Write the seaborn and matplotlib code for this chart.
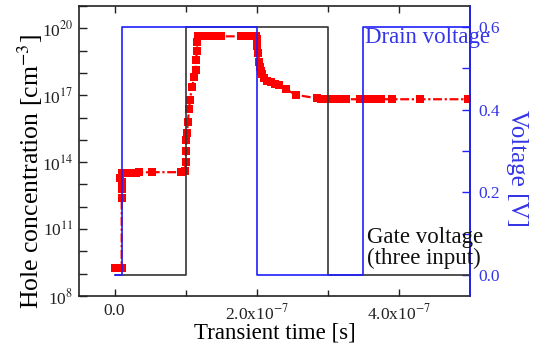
import numpy as np
import pandas as pd
import matplotlib
matplotlib.use("Agg")
import matplotlib.pyplot as plt
import matplotlib.ticker as mticker
import seaborn as sns

# ---------------- data ----------------
# hole concentration (time in units of 1e-7 s, log10 of concentration in cm^-3)
hole_time_e7 = [0.00, 0.06, 0.10, 0.101, 0.102, 0.104, 0.08, 0.11, 0.15, 0.20, 0.25, 0.30, 0.35,
                0.53, 0.94, 0.99, 1.00, 1.005, 1.01, 1.02, 1.03, 1.05, 1.06, 1.09, 1.12, 1.14,
                1.15, 1.155, 1.165, 1.18, 1.23, 1.28, 1.33, 1.38, 1.45, 1.50, 1.78, 1.83, 1.87,
                1.92, 1.96, 1.99, 2.00, 2.01, 2.02, 2.035, 2.05, 2.06, 2.08, 2.105, 2.15, 2.20,
                2.26, 2.32, 2.41, 2.55, 2.85, 2.90, 3.00, 3.06, 3.13, 3.20, 3.25, 3.45, 3.50,
                3.55, 3.60, 3.65, 3.70, 3.75, 3.90, 4.30, 4.97]
hole_log10 = [9.25, 9.25, 9.25, 12.4, 12.8, 13.1, 13.3, 13.52, 13.52, 13.53, 13.53, 13.53, 13.54,
              13.55, 13.55, 13.6, 14.0, 14.5, 15.0, 15.3, 15.8, 16.4, 16.8, 17.36, 17.8, 18.12,
              18.6, 19.0, 19.37, 19.64, 19.64, 19.64, 19.64, 19.64, 19.64, 19.64, 19.64, 19.64,
              19.64, 19.64, 19.64, 19.64, 19.5, 19.2, 18.9, 18.5, 18.25, 18.1, 17.95, 17.76,
              17.66, 17.58, 17.5, 17.45, 17.27, 17.02, 16.86, 16.84, 16.83, 16.83, 16.82, 16.82,
              16.82, 16.82, 16.82, 16.82, 16.82, 16.82, 16.82, 16.82, 16.82, 16.82, 16.82]

# voltages: switching times (s) and levels (V), step-wise
gate_time = [0.0, 1e-7, 3e-7, 5e-7]
gate_level = [0.0, 0.6, 0.0, 0.0]
drain_time = [0.0, 0.1e-7, 2e-7, 3.5e-7, 5e-7]
drain_level = [0.0, 0.6, 0.0, 0.6, 0.6]

x_ticks = [0.0, 2e-7, 4e-7]
x_ticklabels = ["0.0", r"2.0x10$^{-7}$", r"4.0x10$^{-7}$"]
y_ticks_exp = [8, 11, 14, 17, 20]
v_ticks = [0.0, 0.2, 0.4, 0.6]
v_ticklabels = ["0.0", "0.2", "0.4", "0.6"]

# ---------------- style ----------------
sns.set_theme(style="ticks")
plt.rcParams["font.family"] = ["Liberation Serif", "DejaVu Serif"]
plt.rcParams["mathtext.fontset"] = "stix"

BLUE = "#1f1fff"
TXTBLUE = "#3535e8"

fig = plt.figure(figsize=(5.34, 3.50), dpi=100)
ax = fig.add_axes([79/534, 1-296/350, (470-79)/534, (296-6)/350])

df = pd.DataFrame({"t": np.array(hole_time_e7) * 1e-7,
                   "n": 10.0 ** np.array(hole_log10)})
sns.lineplot(data=df, x="t", y="n", ax=ax, sort=False, estimator=None,
             color="red", linewidth=1.6, marker="s", markersize=6.2,
             markeredgewidth=0, dashes=False)
ln = ax.get_lines()[0]
ln.set_dashes((4, 1.2, 1, 1.2))

ax.set_yscale("log")
ax.set_xlim(-0.5e-7, 5e-7)
ax.set_ylim(1e8, 1e21)
ax.yaxis.set_major_locator(mticker.FixedLocator([10.0 ** e for e in y_ticks_exp]))
ax.yaxis.set_major_formatter(mticker.FixedFormatter([r"10$^{%d}$" % e for e in y_ticks_exp]))
ax.yaxis.set_minor_locator(mticker.FixedLocator([10.0 ** e for e in range(8, 22)]))
ax.yaxis.set_minor_formatter(mticker.NullFormatter())
ax.xaxis.set_major_locator(mticker.FixedLocator(x_ticks))
ax.xaxis.set_major_formatter(mticker.FixedFormatter(x_ticklabels))
ax.xaxis.set_minor_locator(mticker.FixedLocator([1e-7, 3e-7]))

ax.tick_params(axis="both", which="both", direction="in", colors="#222222",
               labelsize=12.5, top=True)
ax.tick_params(axis="y", which="major", length=6, width=1, pad=4, right=False)
ax.tick_params(axis="y", which="minor", length=6, width=1, right=False)
ax.tick_params(axis="x", which="major", length=5, width=1, pad=5)
ax.tick_params(axis="x", which="minor", length=4, width=1)
for s in ax.spines.values():
    s.set_linewidth(1.2)
    s.set_color("#222222")

ax.set_xlabel("Transient time [s]", fontsize=16.5, labelpad=0, color="black")
ax.xaxis.set_label_coords(0.5, -0.093)
ax.set_ylabel(r"Hole concentration [cm$^{-3}$]", fontsize=18.5, color="black")
ax.yaxis.set_label_coords(-0.088, 0.43)

# ---------------- voltage axis ----------------
ax2 = ax.twinx()
vg = pd.DataFrame({"t": gate_time, "v": gate_level})
vd = pd.DataFrame({"t": drain_time, "v": drain_level})
sns.lineplot(data=vg, x="t", y="v", ax=ax2, sort=False, estimator=None,
             color="#333333", linewidth=1.2, drawstyle="steps-post")
sns.lineplot(data=vd, x="t", y="v", ax=ax2, sort=False, estimator=None,
             color=BLUE, linewidth=1.2, drawstyle="steps-post")
ax2.set_ylim(-0.05, 0.65)
ax2.set_xlim(-0.5e-7, 5e-7)
ax2.yaxis.set_major_locator(mticker.FixedLocator(v_ticks))
ax2.yaxis.set_major_formatter(mticker.FixedFormatter(v_ticklabels))
ax2.yaxis.set_minor_locator(mticker.FixedLocator([0.1, 0.3, 0.5]))
ax2.tick_params(axis="y", which="both", direction="in", colors=BLUE,
                labelcolor=TXTBLUE, labelsize=12.5, length=6, width=1, pad=6)
ax2.spines["right"].set_color(BLUE)
ax2.spines["right"].set_linewidth(1.2)
for k in ["left", "top", "bottom"]:
    ax2.spines[k].set_visible(False)
ax2.set_ylabel("Voltage [V]", fontsize=18, color=TXTBLUE, rotation=270)
ax2.yaxis.set_label_coords(1.148, 0.44)
ax2.set_xlabel("")

ax2.text(3.53e-7, 0.573, "Drain voltage", color=TXTBLUE, fontsize=16.5,
         va="center", ha="left", clip_on=False)
ax2.text(3.55e-7, 0.066, "Gate voltage\n(three input)", color="#111111",
         fontsize=16.5, va="center", ha="left", linespacing=1.0, clip_on=False)

fig.savefig("out.png", dpi=100)
